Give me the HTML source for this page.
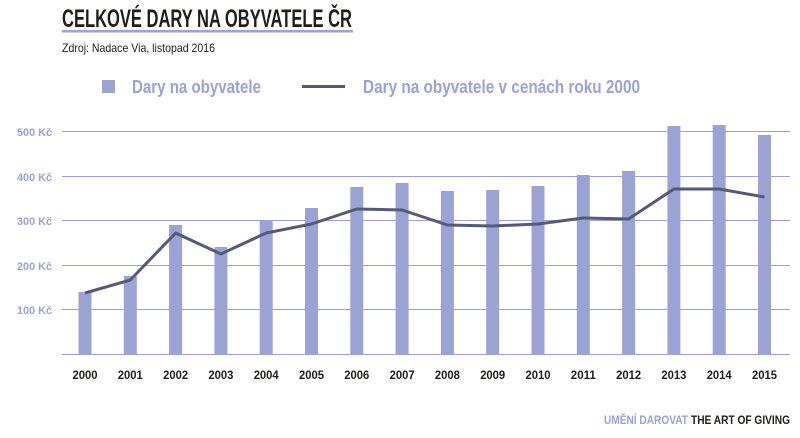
<!DOCTYPE html>
<html><head><meta charset="utf-8"><style>
html,body{margin:0;padding:0;background:#fff;}
svg{display:block;font-family:"Liberation Sans Narrow","Liberation Sans",sans-serif;}
</style></head><body>
<svg width="800" height="438" viewBox="0 0 800 438">
<text x="62" y="27" font-size="25" font-weight="bold" fill="#1d1d1b" textLength="290" lengthAdjust="spacingAndGlyphs">CELKOVÉ DARY NA OBYVATELE ČR</text>
<rect x="62" y="30" width="291" height="2.5" fill="#9aa3d4"/>
<text x="62" y="52" font-size="12" fill="#1d1d1b" textLength="153" lengthAdjust="spacingAndGlyphs">Zdroj: Nadace Via, listopad 2016</text>
<rect x="102" y="80" width="13" height="13" fill="#9aa3d4"/>
<text x="132" y="93" font-size="18" font-weight="bold" fill="#9aa3d4" textLength="129" lengthAdjust="spacingAndGlyphs">Dary na obyvatele</text>
<rect x="302" y="85" width="43" height="3" fill="#555a78"/>
<text x="363" y="93" font-size="18" font-weight="bold" fill="#9aa3d4" textLength="277" lengthAdjust="spacingAndGlyphs">Dary na obyvatele v cenách roku 2000</text>
<g stroke="#9aa3d4" stroke-width="1">
<line x1="62" y1="131.5" x2="790" y2="131.5"/>
<line x1="62" y1="176.5" x2="790" y2="176.5"/>
<line x1="62" y1="220.5" x2="790" y2="220.5"/>
<line x1="62" y1="265.5" x2="790" y2="265.5"/>
<line x1="62" y1="309.5" x2="790" y2="309.5"/>
<line x1="62" y1="354.5" x2="790" y2="354.5"/>
</g>
<g font-size="11" font-weight="bold" fill="#9aa3d4">
<text x="17" y="136" textLength="35" lengthAdjust="spacingAndGlyphs">500 Kč</text>
<text x="17" y="181" textLength="35" lengthAdjust="spacingAndGlyphs">400 Kč</text>
<text x="17" y="225" textLength="35" lengthAdjust="spacingAndGlyphs">300 Kč</text>
<text x="17" y="270" textLength="35" lengthAdjust="spacingAndGlyphs">200 Kč</text>
<text x="17" y="314" textLength="35" lengthAdjust="spacingAndGlyphs">100 Kč</text>
</g>
<g fill="#9aa3d4">
<rect x="78.5" y="292" width="13" height="62"/>
<rect x="123.8" y="276" width="13" height="78"/>
<rect x="169.1" y="225" width="13" height="129"/>
<rect x="214.4" y="247" width="13" height="107"/>
<rect x="259.7" y="220" width="13" height="134"/>
<rect x="305" y="208" width="13" height="146"/>
<rect x="350.3" y="187" width="13" height="167"/>
<rect x="395.6" y="183" width="13" height="171"/>
<rect x="440.9" y="191" width="13" height="163"/>
<rect x="486.2" y="190" width="13" height="164"/>
<rect x="531.5" y="186" width="13" height="168"/>
<rect x="576.8" y="175" width="13" height="179"/>
<rect x="622.1" y="171" width="13" height="183"/>
<rect x="667.4" y="126" width="13" height="228"/>
<rect x="712.7" y="125" width="13" height="229"/>
<rect x="758" y="135" width="13" height="219"/>
</g>
<polyline fill="none" stroke="#555a78" stroke-width="3" stroke-linejoin="round" points="85,293 130.3,280 175.6,233 220.9,254 266.2,233 311.5,224 356.8,209 402.1,210 447.4,225 492.7,226 538,224 583.3,218 628.6,219 673.9,189 719.2,189 764.5,197"/>
<g font-size="12" font-weight="bold" fill="#1d1d1b" text-anchor="middle">
<text x="85" y="379" textLength="25" lengthAdjust="spacingAndGlyphs">2000</text><text x="130.3" y="379" textLength="25" lengthAdjust="spacingAndGlyphs">2001</text><text x="175.6" y="379" textLength="25" lengthAdjust="spacingAndGlyphs">2002</text><text x="220.9" y="379" textLength="25" lengthAdjust="spacingAndGlyphs">2003</text><text x="266.2" y="379" textLength="25" lengthAdjust="spacingAndGlyphs">2004</text><text x="311.5" y="379" textLength="25" lengthAdjust="spacingAndGlyphs">2005</text><text x="356.8" y="379" textLength="25" lengthAdjust="spacingAndGlyphs">2006</text><text x="402.1" y="379" textLength="25" lengthAdjust="spacingAndGlyphs">2007</text><text x="447.4" y="379" textLength="25" lengthAdjust="spacingAndGlyphs">2008</text><text x="492.7" y="379" textLength="25" lengthAdjust="spacingAndGlyphs">2009</text><text x="538" y="379" textLength="25" lengthAdjust="spacingAndGlyphs">2010</text><text x="583.3" y="379" textLength="25" lengthAdjust="spacingAndGlyphs">2011</text><text x="628.6" y="379" textLength="25" lengthAdjust="spacingAndGlyphs">2012</text><text x="673.9" y="379" textLength="25" lengthAdjust="spacingAndGlyphs">2013</text><text x="719.2" y="379" textLength="25" lengthAdjust="spacingAndGlyphs">2014</text><text x="764.5" y="379" textLength="25" lengthAdjust="spacingAndGlyphs">2015</text>
</g>
<text x="604" y="424" font-size="12" font-weight="bold" fill="#9aa3d4" textLength="84" lengthAdjust="spacingAndGlyphs">UMĚNÍ DAROVAT</text>
<text x="691" y="424" font-size="12" font-weight="bold" fill="#1d1d1b" textLength="99" lengthAdjust="spacingAndGlyphs">THE ART OF GIVING</text>
</svg>
</body></html>
